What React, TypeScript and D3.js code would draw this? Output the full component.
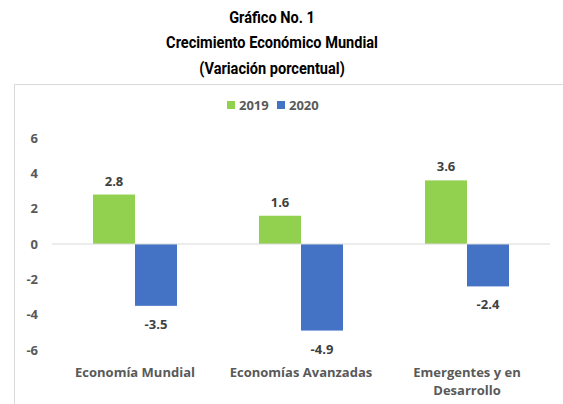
import React from "react";
import * as d3 from "d3";

const categories = ["Economía Mundial", "Economías Avanzadas", "Emergentes y en Desarrollo"];
const categoryLines = [["Economía Mundial"], ["Economías Avanzadas"], ["Emergentes y en", "Desarrollo"]];
const seriesNames = ["2019", "2020"];
const values2019 = [2.8, 1.6, 3.6];
const values2020 = [-3.5, -4.9, -2.4];
const yTicks = [-6, -4, -2, 0, 2, 4, 6];
const titleLines = ["Gráfico No. 1", "Crecimiento Económico Mundial", "(Variación porcentual)"];

const colors = ["#92D050", "#4472C4"];
const width = 563;
const height = 404;
const font = "'Open Sans', 'DejaVu Sans', sans-serif";
const titleFont = "Roboto, 'Liberation Sans', sans-serif";

const App = () => {
  const x = d3.scaleBand<string>().domain(categories).range([52, 550]).paddingInner(0.494).paddingOuter(0.247);
  const xs = d3.scaleBand<string>().domain(seriesNames).range([0, x.bandwidth()]);
  const y = d3.scaleLinear().domain([-6, 6]).range([350, 138]);
  const series = [values2019, values2020];

  return (
    <svg width={width} height={height} style={{ position: "absolute", left: 0, top: 0 }}>
      <rect width={width} height={height} fill="#fff" />
      {/* title, squeezed horizontally like a narrow face */}
      <g transform="translate(272,0) scale(0.91,1)">
        {titleLines.map((t, i) => (
          <text
            key={t}
            x={0}
            y={23 + i * 25.5}
            textAnchor="middle"
            fontFamily={titleFont}
            fontWeight="bold"
            fontSize={16}
            fill="#000"
          >
            {t}
          </text>
        ))}
      </g>
      {/* chart area border */}
      <path d={`M14.5,${height} V84.5 H${width}`} fill="none" stroke="#d9d9d9" />

      {/* legend */}
      {seriesNames.map((s, i) => (
        <g key={s} transform={`translate(${227 + i * 50},101)`}>
          <rect width={8} height={8} fill={colors[i]} />
          <text x={12} y={8.5} fontFamily={font} fontWeight="bold" fontSize={13} fill="#595959">
            {s}
          </text>
        </g>
      ))}

      {/* y ticks */}
      {yTicks.map((t) => (
        <text key={t} x={38} y={y(t) + 4.5} textAnchor="end" fontFamily={font} fontWeight="bold" fontSize={13} fill="#595959">
          {t}
        </text>
      ))}

      {/* bars */}
      {series.map((vals, si) =>
        vals.map((v, ci) => {
          const bx = (x(categories[ci]) ?? 0) + (xs(seriesNames[si]) ?? 0);
          const top = y(Math.max(0, v));
          const bottom = y(Math.min(0, v));
          return (
            <g key={`${si}-${ci}`}>
              <rect x={bx} y={top} width={xs.bandwidth()} height={bottom - top} fill={colors[si]} />
              <text
                x={bx + xs.bandwidth() / 2}
                y={v >= 0 ? top - 9 : bottom + 23}
                textAnchor="middle"
                fontFamily={font}
                fontWeight="bold"
                fontSize={13}
                fill="#404040"
              >
                {v.toFixed(1)}
              </text>
            </g>
          );
        })
      )}

      {/* zero line */}
      <line x1={52} x2={550} y1={y(0)} y2={y(0)} stroke="#d9d9d9" />

      {/* category labels */}
      {categories.map((c, ci) => (
        <text
          key={c}
          x={(x(c) ?? 0) + x.bandwidth() / 2}
          y={377}
          textAnchor="middle"
          fontFamily={font}
          fontWeight="bold"
          fontSize={13}
          fill="#595959"
        >
          {categoryLines[ci].map((l, li) => (
            <tspan key={l} x={(x(c) ?? 0) + x.bandwidth() / 2} dy={li === 0 ? 0 : 18}>
              {l}
            </tspan>
          ))}
        </text>
      ))}
    </svg>
  );
};

export default App;
